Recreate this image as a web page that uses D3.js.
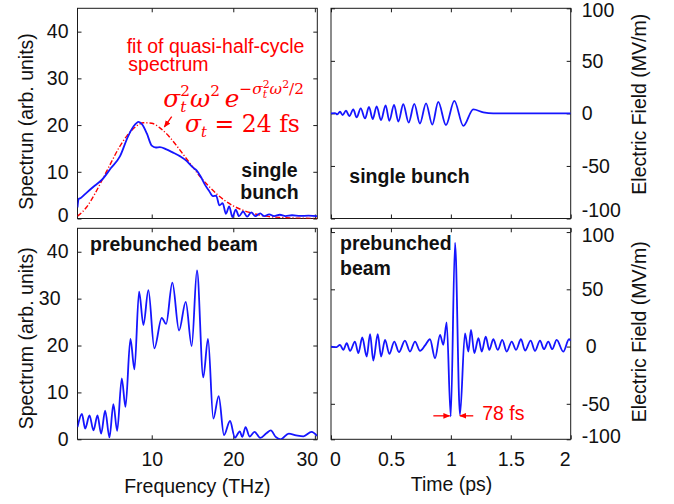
<!DOCTYPE html>
<html>
<head>
<meta charset="utf-8">
<script src="https://cdn.jsdelivr.net/npm/d3@7"></script>
<style>
body { margin: 0; background: #fff; }
svg { font-family: "Liberation Sans", Arial, sans-serif; }
</style>
</head>
<body>
<svg id="fig" width="674" height="504"></svg>
<script>
// ---- data ----
var freqTicks = [10, 20, 30];
var timeTicks = [0, 0.5, 1, 1.5, 2];
var specTicks = [0, 10, 20, 30, 40];
var fieldTicks = [-100, -50, 0, 50, 100];

// single bunch spectrum (THz, arb. units)
var singleSpecF = [0.9, 1.05, 1.3, 2.0, 3.0, 3.9, 5.0, 6.1, 7.1, 7.8, 8.4, 8.8, 9.4, 10.0, 10.5, 11.0, 11.8, 12.5, 13.5, 14.3, 15.0, 15.5, 16.0, 16.5, 17.0, 17.5,
  17.9, 18.3, 18.7, 19.1, 19.5, 19.9, 20.3, 20.7, 21.2, 21.7, 22.2, 22.7, 23.3, 23.8, 24.4, 25.0, 25.7, 26.4, 27.2, 28.2, 29.2, 30.3];
var singleSpecV = [2.4, 4.2, 4.4, 5.5, 7.0, 8.3, 10.8, 13.3, 17.6, 19.8, 20.7, 20.2, 18.2, 15.6, 15.2, 15.3, 14.8, 14.2, 13.3, 12.3, 11.0, 10.3, 9.0, 7.3, 6.0, 4.8,
  4.9, 2.8, 3.3, 1.0, 2.6, 0.3, 1.9, 0.5, 1.5, 0.4, 1.3, 0.5, 1.1, 0.5, 0.9, 0.5, 0.8, 0.5, 0.7, 0.55, 0.6, 0.5];

// red dash-dot fit of the quasi-half-cycle spectrum
var fitF = [0.9, 2, 3, 4, 5, 6, 7, 8, 9, 10, 11, 12, 13, 14, 15, 16, 17, 18, 19, 20, 22, 24, 26, 28, 30.3];
var fitV = [0.5, 2.4, 5.2, 8.5, 11.9, 15.2, 17.8, 19.6, 20.5, 20.4, 19.4, 17.8, 15.7, 13.4, 11.1, 8.8, 6.9, 5.2, 3.8, 2.7, 1.3, 0.5, 0.2, 0.07, 0.02];

// single bunch electric field (ps, MV/m)
var singleFieldT = [0, 0.033, 0.053, 0.075, 0.097, 0.125, 0.153, 0.186, 0.214, 0.248, 0.284, 0.317, 0.348, 0.381, 0.417, 0.456, 0.487, 0.526, 0.562,
  0.603, 0.648, 0.695, 0.742, 0.793, 0.845, 0.895, 0.959, 1.029, 1.104, 1.187, 1.271, 1.354, 2.0];
var singleFieldV = [0, 0.3, -1.0, 1.6, -1.6, 2.6, -2.6, 3.8, -3.8, 4.8, -4.8, 6.1, -5.4, 6.7, -6.4, 7.7, -7.1, 8.0, -7.7,
  8.7, -8.7, 9.0, -9.6, 9.6, -10.6, 10.9, -11.2, 11.9, -11.9, 3.8, 1.0, 0, 0];

// prebunched beam spectrum
var preSpecF = [0.9, 1.44, 1.84, 2.37, 2.86, 3.35, 3.8, 4.29, 4.82, 5.3, 5.76, 6.33, 6.78, 7.39, 7.88, 8.45, 8.98, 9.59, 10.32, 11.23, 11.76, 12.53, 13.35,
  14.17, 14.9, 15.55, 16.32, 16.9, 17.55, 18.21, 18.86, 19.6, 20.2, 20.8, 21.1, 21.5, 22.0, 22.6, 23.3, 24.1, 24.6, 25.2, 25.8, 26.8, 27.7, 28.6, 29.6, 30.3];
var preSpecV = [2.6, 5.4, 2.3, 5.1, 1.9, 5.1, 1.2, 6.1, 0.4, 7.5, 1.8, 13.0, 6.9, 21.4, 14.9, 31.5, 24.4, 31.8, 19.4, 25.9, 24.6, 33.4, 23.2,
  29.3, 19.9, 36.0, 13.2, 21.4, 4.4, 9.2, 0.9, 3.9, 0.36, 1.7, 0.5, 2.6, 0.6, 1.6, 0.3, 1.35, 1.9, 0.5, 0, 1.2, 0.86, 0.64, 1.6, 0.7];

// prebunched beam electric field
var preFieldT = [0, 0.047, 0.075, 0.103, 0.131, 0.159, 0.2, 0.228, 0.261, 0.298, 0.326, 0.353, 0.39, 0.418, 0.451, 0.487, 0.528, 0.567, 0.617, 0.659,
  0.701, 0.743, 0.785, 0.826, 0.868, 0.91, 0.937, 0.965, 0.999, 1.035, 1.076, 1.118, 1.146, 1.168, 1.196, 1.23, 1.258, 1.291, 1.321, 1.354, 1.391, 1.429,
  1.466, 1.508, 1.544, 1.585, 1.619, 1.666, 1.702, 1.744, 1.777, 1.813, 1.846, 1.883, 1.938, 1.986, 2.0];
var preFieldV = [0, -0.5, 1.5, -2.9, 2.9, -3.8, 4.4, -5.8, 7.9, -8.7, 10.8, -12.2, 10.8, -8.7, 5.8, -6.4, 4.4, -4.9, 5.2, -4.4,
  4.4, -3.8, 1.0, 6.4, -10.2, 10.2, 1.5, 21, -61, 90.8, -59.6, 11.6, -4.4, 14.6, -5.8, 7.3, -4.4, 8.7, -2.9, 6.4, -2.9, 5.8,
  -4.4, 4.4, -2.9, 6.4, -3.5, 5.2, -3.8, 5.2, -2.3, 4.4, -2.3, 5.8, -4.4, 6.4, 5];

// ---- layout ----
var svg = d3.select('#fig');
var blue = '#1515ff';
var ink = '#1a1a1a';
var fs = 19.5;

var xF = d3.scaleLinear().domain([0.9, 30.3]).range([77.5, 317.3]);
var xT = d3.scaleLinear().domain([0, 2]).range([331, 570.7]);
var ySpecTop = d3.scaleLinear().domain([0, 45]).range([218.5, 8.3]);
var ySpecBot = d3.scaleLinear().domain([0, 45]).range([439.3, 228.3]);
var yFieldTop = d3.scaleLinear().domain([-100, 100]).range([218.5, 8.3]);
var yFieldBot = d3.scaleLinear().domain([-81, 103.3]).range([439.3, 228.3]);

svg.append('defs').append('marker')
  .attr('id', 'ah').attr('viewBox', '0 0 10 10').attr('refX', 9).attr('refY', 5)
  .attr('markerWidth', 7).attr('markerHeight', 7).attr('markerUnits', 'userSpaceOnUse')
  .attr('orient', 'auto')
  .append('path').attr('d', 'M0,1 L10,5 L0,9 Z').attr('fill', 'red');

function styleAxis(g) {
  g.select('.domain').remove();
  g.attr('font-size', fs).attr('font-family', null);
  g.selectAll('line').attr('stroke', ink);
  g.selectAll('text').attr('fill', '#111');
}

// draws a boxed panel with inward ticks on all four sides
function panel(x, y, o) {
  var x0 = x.range()[0], x1 = x.range()[1], y0 = y.range()[1], y1 = y.range()[0];
  var g = svg.append('g');

  g.append('g').attr('transform', 'translate(' + x0 + ',0)')
    .call(d3.axisLeft(y).tickValues(o.yTicks).tickSizeInner(-4).tickSizeOuter(0).tickPadding(9)
      .tickFormat(o.yLeft ? o.yFmt : ''))
    .call(styleAxis);
  g.append('g').attr('transform', 'translate(' + x1 + ',0)')
    .call(d3.axisRight(y).tickValues(o.yTicks).tickSizeInner(-4).tickSizeOuter(0).tickPadding(11)
      .tickFormat(o.yLeft ? '' : o.yFmt))
    .call(styleAxis);
  g.append('g').attr('transform', 'translate(0,' + y0 + ')')
    .call(d3.axisTop(x).tickValues(o.xTicks).tickSizeInner(-4).tickSizeOuter(0).tickFormat(''))
    .call(styleAxis);
  g.append('g').attr('transform', 'translate(0,' + y1 + ')')
    .call(d3.axisBottom(x).tickValues(o.xTicks).tickSizeInner(-4).tickSizeOuter(0).tickPadding(13)
      .tickFormat(o.xLabels ? o.xFmt : ''))
    .call(styleAxis);

  // nudges of the edge labels, as in the original figure
  if (o.shift) {
    g.selectAll('.tick text').each(function (d) {
      var s = o.shift[d];
      if (s && this.textContent !== '') d3.select(this).attr('transform', 'translate(' + s[0] + ',' + s[1] + ')');
    });
  }

  g.append('rect').attr('x', x0).attr('y', y0).attr('width', x1 - x0).attr('height', y1 - y0)
    .attr('fill', 'none').attr('stroke', ink).attr('stroke-width', 1);

  var clipId = 'c' + Math.round(x0) + '_' + Math.round(y0);
  svg.append('clipPath').attr('id', clipId).append('rect')
    .attr('x', x0).attr('y', y0).attr('width', x1 - x0).attr('height', y1 - y0);
  return svg.append('g').attr('clip-path', 'url(#' + clipId + ')');
}

function curve(g, x, y, xs, ys, color, width, dash) {
  var line = d3.line().x(function (d) { return x(d[0]); }).y(function (d) { return y(d[1]); })
    .curve(d3.curveMonotoneX);
  g.append('path').datum(d3.zip(xs, ys)).attr('d', line)
    .attr('fill', 'none').attr('stroke', color).attr('stroke-width', width)
    .attr('stroke-linejoin', 'round').attr('stroke-dasharray', dash || null);
}

var fmtNum = function (d) { return String(d); };

// top-left: single bunch spectrum
var p1 = panel(xF, ySpecTop, { xTicks: freqTicks, yTicks: specTicks, yLeft: true, yFmt: fmtNum, xLabels: false,
  shift: { 0: [0, -3] } });
curve(p1, xF, ySpecTop, fitF, fitV, 'red', 1.4, '5,2,1.2,2');
curve(p1, xF, ySpecTop, singleSpecF, singleSpecV, blue, 1.8);

// top-right: single bunch field
var p2 = panel(xT, yFieldTop, { xTicks: timeTicks, yTicks: fieldTicks, yLeft: false, yFmt: fmtNum, xLabels: false,
  shift: { 100: [0, 2], '-100': [0, -8] } });
curve(p2, xT, yFieldTop, singleFieldT, singleFieldV, blue, 1.8);

// bottom-left: prebunched spectrum
var p3 = panel(xF, ySpecBot, { xTicks: freqTicks, yTicks: specTicks, yLeft: true, yFmt: fmtNum, xLabels: true, xFmt: fmtNum,
  shift: { 30: [-8, 0] } });
curve(p3, xF, ySpecBot, preSpecF, preSpecV, blue, 1.8);

// bottom-right: prebunched field (bottom label sits at the frame edge)
var p4 = panel(xT, yFieldBot, { xTicks: timeTicks, yTicks: [-81, -50, 0, 50, 100], yLeft: false, xLabels: true,
  yFmt: function (d) { return d === -81 ? '-100' : String(d); }, xFmt: fmtNum,
  shift: { 100: [0, 3], '-81': [0, -3], 0: [4, 0], 2: [-6, 0] } });
curve(p4, xT, yFieldBot, preFieldT, preFieldV, blue, 1.8);

// ---- axis titles ----
function vlabel(x, y, s) {
  svg.append('text').attr('transform', 'translate(' + x + ',' + y + ') rotate(-90)')
    .attr('text-anchor', 'middle').attr('font-size', fs).attr('fill', '#111').text(s);
}
vlabel(32.5, 121.5, 'Spectrun (arb. units)');
vlabel(32.5, 338.3, 'Spectrum (arb. units)');
vlabel(646, 104.2, 'Electric Field (MV/m)');
vlabel(646, 331.7, 'Electric Field (MV/m)');

svg.append('text').attr('x', 197.3).attr('y', 492.7).attr('text-anchor', 'middle')
  .attr('font-size', fs).attr('fill', '#111').text('Frequency (THz)');
svg.append('text').attr('x', 451.5).attr('y', 490.7).attr('text-anchor', 'middle')
  .attr('font-size', fs).attr('fill', '#111').text('Time (ps)');

// ---- panel captions ----
function bold(x, y, s, anchor) {
  svg.append('text').attr('x', x).attr('y', y).attr('text-anchor', anchor || 'start')
    .attr('font-size', fs).attr('font-weight', 'bold').attr('fill', '#111').text(s);
}
bold(269.5, 176.7, 'single', 'middle');
bold(269.5, 199.3, 'bunch', 'middle');
bold(349.3, 182.5, 'single bunch');
bold(90, 250.5, 'prebunched beam');
bold(340, 250, 'prebunched');
bold(340, 274.5, 'beam');

// ---- red annotations ----
svg.append('text').attr('x', 126.7).attr('y', 53).attr('font-size', fs).attr('fill', 'red').text('fit of quasi-half-cycle');
svg.append('text').attr('x', 128.3).attr('y', 71).attr('font-size', fs).attr('fill', 'red').text('spectrum');

function mathLine(pieces, x0, x1, baseline, size) {
  var g = svg.append('g');
  var x = 0, hold = 0;
  pieces.forEach(function (p) {
    var t = g.append('text').attr('x', x).attr('y', (p.dy || 0) * size)
      .attr('font-size', (p.sz || 1) * size).style('font-family', '"DejaVu Serif", serif')
      .attr('font-style', p.it ? 'italic' : 'normal').attr('fill', 'red').text(p.s);
    var w = t.node().getComputedTextLength();
    if (p.stack) { hold = w; } else { x += Math.max(w, hold); hold = 0; }
  });
  var bb = g.node().getBBox();
  var k = (x1 - x0) / bb.width;
  g.attr('transform', 'translate(' + (x0 - bb.x * k) + ',' + baseline + ') scale(' + k + ')');
}

mathLine([
  { s: 'σ', it: 1 }, { s: '2', sz: .62, dy: -.42, stack: 1 }, { s: 't', it: 1, sz: .62, dy: .24 },
  { s: 'ω', it: 1 }, { s: '2', sz: .62, dy: -.42 }, { s: '\u00a0', sz: .6 }, { s: 'e', it: 1 },
  { s: '−', sz: .62, dy: -.5 }, { s: 'σ', it: 1, sz: .62, dy: -.5 },
  { s: '2', sz: .44, dy: -.75, stack: 1 }, { s: 't', it: 1, sz: .44, dy: -.36 },
  { s: 'ω', it: 1, sz: .62, dy: -.5 }, { s: '2', sz: .44, dy: -.75 }, { s: '/2', sz: .62, dy: -.5 }
], 163.3, 304, 106.5, 22);

mathLine([
  { s: 'σ', it: 1 }, { s: 't', it: 1, sz: .62, dy: .24 }, { s: '\u00a0=\u00a0' }, { s: '24\u00a0fs' }
], 185, 300, 131.5, 22);

// arrow pointing at the fit curve
svg.append('line')
  .attr('x1', xF(12.45)).attr('y1', ySpecTop(21.8)).attr('x2', xF(11.55)).attr('y2', ySpecTop(19.6))
  .attr('stroke', 'red').attr('stroke-width', 1.3).attr('marker-end', 'url(#ah)');

// pulse width markers
svg.append('line')
  .attr('x1', xT(0.854)).attr('y1', yFieldBot(-60.5)).attr('x2', xT(0.99)).attr('y2', yFieldBot(-60.5))
  .attr('stroke', 'red').attr('stroke-width', 1.3).attr('marker-end', 'url(#ah)');
svg.append('line')
  .attr('x1', xT(1.187)).attr('y1', yFieldBot(-60.5)).attr('x2', xT(1.075)).attr('y2', yFieldBot(-60.5))
  .attr('stroke', 'red').attr('stroke-width', 1.3).attr('marker-end', 'url(#ah)');
svg.append('text').attr('x', xT(1.262)).attr('y', 420).attr('font-size', fs).attr('fill', 'red').text('78 fs');
</script>
</body>
</html>
